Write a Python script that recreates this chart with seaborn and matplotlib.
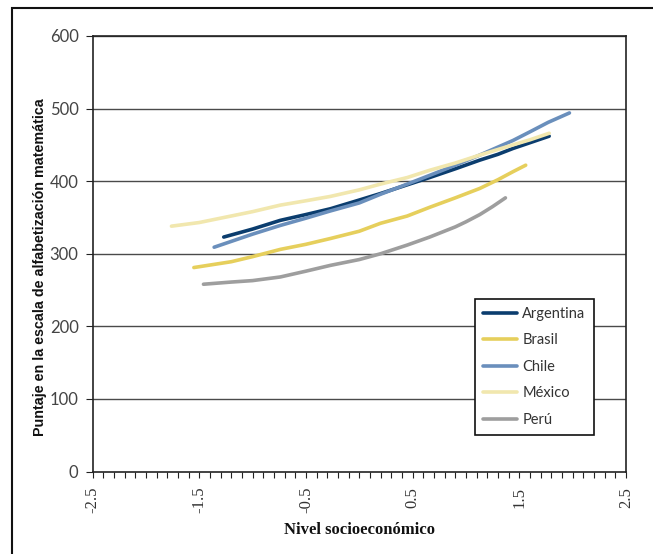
import numpy as np
import pandas as pd
import matplotlib
matplotlib.use("Agg")
import matplotlib.pyplot as plt
from matplotlib.patches import Rectangle
from matplotlib.ticker import FixedLocator, FuncFormatter
import seaborn as sns

countries = ["Argentina", "Brasil", "Chile", "México", "Perú"]
colors = ["#0b3d6e", "#e6cf5c", "#6a8fbc", "#f1e7ae", "#9e9e9e"]

arg_x = [-1.27, -1.0, -0.74, -0.5, -0.27, 0.0, 0.2, 0.45, 0.66, 0.9, 1.13, 1.3, 1.44, 1.6, 1.78]
arg_y = [323, 334, 346, 354, 362, 374, 383, 395, 405, 417, 429, 437, 445, 453, 462]

bra_x = [-1.55, -1.2, -1.0, -0.74, -0.5, -0.27, 0.0, 0.2, 0.45, 0.66, 0.9, 1.13, 1.3, 1.44, 1.56]
bra_y = [281, 289, 296, 306, 313, 321, 331, 342, 352, 364, 377, 390, 402, 413, 422]

chi_x = [-1.36, -1.0, -0.74, -0.5, -0.27, 0.0, 0.2, 0.45, 0.66, 0.9, 1.13, 1.44, 1.6, 1.77, 1.97]
chi_y = [309, 327, 339, 349, 359, 370, 382, 396, 408, 422, 436, 456, 468, 481, 494]

mex_x = [-1.76, -1.5, -1.2, -1.0, -0.74, -0.5, -0.27, 0.0, 0.2, 0.45, 0.66, 0.9, 1.13, 1.44, 1.6, 1.78]
mex_y = [338, 343, 352, 358, 367, 373, 379, 388, 396, 405, 415, 425, 436, 450, 457, 466]

per_x = [-1.46, -1.2, -1.0, -0.74, -0.5, -0.27, 0.0, 0.2, 0.45, 0.66, 0.9, 1.0, 1.13, 1.25, 1.37]
per_y = [258, 261, 263, 268, 276, 284, 292, 300, 312, 323, 337, 344, 354, 365, 377]

x_labels = ["-2.5", "-1.5", "-0.5", "0.5", "1.5", "2.5"]
y_ticks = [0, 100, 200, 300, 400, 500, 600]

series = {
    "Argentina": (arg_x, arg_y),
    "Brasil": (bra_x, bra_y),
    "Chile": (chi_x, chi_y),
    "México": (mex_x, mex_y),
    "Perú": (per_x, per_y),
}
df = pd.concat(
    [pd.DataFrame({"ns": xs, "puntaje": ys, "pais": name}) for name, (xs, ys) in series.items()],
    ignore_index=True,
)

sns.set_theme(style="white")
fig = plt.figure(figsize=(6.53, 5.54), dpi=100)
ax = fig.add_axes([92.5 / 653, 1 - 471.5 / 554, 533.5 / 653, 435.5 / 554])

sns.lineplot(data=df, x="ns", y="puntaje", hue="pais", hue_order=countries,
             palette=dict(zip(countries, colors)), linewidth=2.6, sort=True,
             estimator=None, ax=ax)

ax.set_xlim(-2.5, 2.5)
ax.set_ylim(0, 600)
ax.set_yticks(y_ticks)
for v in y_ticks[1:]:
    ax.axhline(v, color="#4a4a4a", lw=1.0, zorder=0)

minor = np.round(np.arange(-2.5, 2.51, 0.1), 2)
ax.xaxis.set_major_locator(FixedLocator(minor))
ax.xaxis.set_major_formatter(FuncFormatter(
    lambda v, p: f"{v:.1f}" if f"{v:.1f}" in x_labels else ""))
ax.tick_params(axis="x", direction="out", length=4, width=0.8, color="#222",
               bottom=True, labelrotation=90, pad=7)
ax.tick_params(axis="y", direction="out", length=5, width=0.8, color="#222",
               left=True, pad=5)
for lab in ax.get_xticklabels():
    lab.set_family("Liberation Serif")
    lab.set_fontsize(12)
    lab.set_color("#333")
for lab in ax.get_yticklabels():
    lab.set_family("Lato")
    lab.set_fontsize(12)
    lab.set_color("#444")

for s in ax.spines.values():
    s.set_color("#222")
    s.set_linewidth(1.2)

ax.set_xlabel("Nivel socioeconómico", family="Liberation Serif", weight="bold",
              fontsize=12, color="#111", labelpad=6)
ax.set_ylabel("Puntaje en la escala de alfabetización matemática",
              family="Liberation Sans", weight="bold", fontsize=10.3, color="#111")
ax.yaxis.set_label_coords(-0.085, 0.47)

leg = ax.legend(loc="upper left", bbox_to_anchor=(0.717, 0.396), frameon=True,
                fancybox=False, edgecolor="#111", framealpha=1, borderpad=0.55,
                handlelength=2.3, handletextpad=0.4, labelspacing=0.85,
                borderaxespad=0, prop={"family": "Lato", "size": 10.5})
leg.get_frame().set_linewidth(1.2)
for t in leg.get_texts():
    t.set_color("#333")

fig.add_artist(Rectangle((12 / 653, -0.1), 1.5, 1.1 - 8 / 554, transform=fig.transFigure,
                         fill=False, lw=1.5, ec="#111"))

fig.savefig("out.png", dpi=100)
